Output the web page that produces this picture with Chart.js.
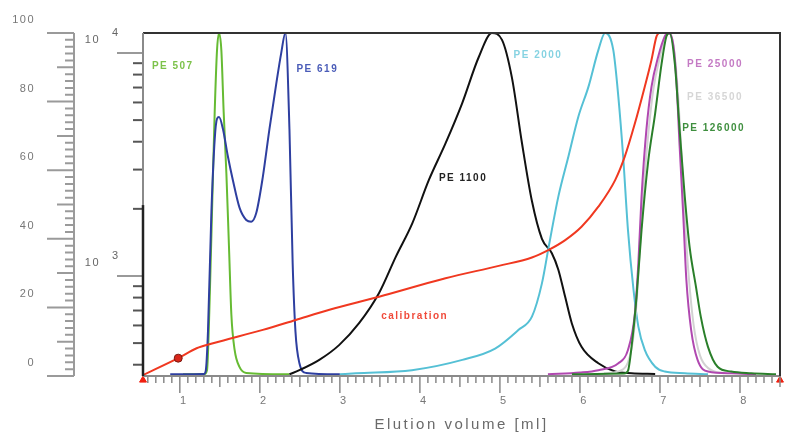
<!DOCTYPE html>
<html>
<head>
<meta charset="utf-8">
<script src="https://cdn.jsdelivr.net/npm/chart.js@4/dist/chart.umd.min.js"></script>
<style>
  html, body { margin: 0; padding: 0; background: #fff; }
  #gpc { display: block; }
</style>
</head>
<body>
<canvas id="gpc" width="785" height="437"></canvas>
<script>
// ------------------------------------------------------------
// GPC ELUTION CURVES (PE standards) + calibration curve
// ------------------------------------------------------------

// axis tick labels
const xTickVals = [1, 2, 3, 4, 5, 6, 7, 8];
const linTickVals = [0, 20, 40, 60, 80, 100];
const logTickVals = [1000, 10000];

// elution volume [ml] / normalized signal for each standard
const pe507Vol = [1.04, 1.30, 1.34, 1.374, 1.407, 1.436, 1.465, 1.49, 1.519, 1.548, 1.582, 1.614, 1.644, 1.685, 1.747, 1.83, 2.37];
const pe507Sig = [0.5, 0.5, 1.7, 23, 52, 77, 95, 100, 95, 77, 59, 38, 18, 7.6, 2.6, 0.9, 0.5];

const pe619Vol = [0.88, 1.30, 1.324, 1.352, 1.395, 1.436, 1.465, 1.49, 1.539, 1.601, 1.664, 1.747, 1.83, 1.893, 1.955, 2.037, 2.12, 2.204, 2.266, 2.32, 2.37, 2.41, 2.445, 2.494, 2.578, 3.0];
const pe619Sig = [0.5, 0.6, 1.5, 13, 48, 69, 75, 75.5, 72, 64, 57, 49, 45.5, 45, 47.5, 58, 72, 85, 94, 100, 72, 33, 13, 3.8, 0.9, 0.5];

const pe1100Vol = [2.37, 2.494, 2.743, 2.99, 3.24, 3.49, 3.70, 3.905, 4.11, 4.32, 4.528, 4.736, 4.90, 5.026, 5.15, 5.275, 5.40, 5.525, 5.649, 5.73, 5.816, 5.898, 6.02, 6.23, 6.44, 6.645, 6.94];
const pe1100Sig = [0.5, 1.7, 4.7, 9, 15.4, 24.2, 34.8, 44.5, 57, 67.8, 79.5, 93, 100, 98, 87, 68, 51, 40, 35.8, 31, 23, 15.4, 8.5, 3.7, 1.3, 0.8, 0.6];

const pe2000Vol = [3.0, 3.2, 3.9, 4.53, 4.94, 5.23, 5.40, 5.525, 5.61, 5.73, 5.856, 5.98, 6.106, 6.23, 6.314, 6.417, 6.48, 6.54, 6.60, 6.67, 6.73, 6.81, 6.94, 7.06, 7.31, 7.6];
const pe2000Sig = [0.5, 0.8, 1.7, 4.7, 8, 13.4, 17.3, 27, 37.7, 52.3, 64, 75.6, 84.3, 95, 100, 95, 81.4, 64, 42.6, 25, 14.4, 7.6, 2.7, 1.3, 0.8, 0.5];

const pe25000Vol = [5.6, 6.0, 6.23, 6.48, 6.60, 6.687, 6.73, 6.77, 6.83, 6.894, 6.977, 7.06, 7.10, 7.164, 7.205, 7.246, 7.29, 7.33, 7.39, 7.47, 7.6, 7.89, 8.2];
const pe25000Sig = [0.5, 1, 1.7, 3.7, 7.6, 18.3, 32.9, 52.3, 71.7, 84.3, 93, 99, 100, 97, 86.3, 66.9, 47.4, 28, 13.4, 4.7, 1.3, 0.8, 0.5];

const pe36500Vol = [6.30, 6.50, 6.60, 6.66, 6.71, 6.75, 6.80, 6.86, 6.92, 7.00, 7.07, 7.11, 7.17, 7.22, 7.27, 7.31, 7.36, 7.42, 7.50, 7.62, 7.80];
const pe36500Sig = [0.8, 1.5, 4, 10, 22, 38, 56, 72, 84, 93, 99, 100, 96, 84, 64, 46, 29, 15, 6, 2, 0.8];

const pe126000Vol = [5.9, 6.55, 6.60, 6.645, 6.707, 6.77, 6.85, 6.94, 7.02, 7.08, 7.12, 7.186, 7.246, 7.31, 7.37, 7.45, 7.51, 7.6, 7.72, 7.89, 8.14, 8.45];
const pe126000Sig = [0.5, 0.7, 1.5, 8.5, 23, 42.6, 62, 76.6, 91, 99, 100, 91, 71.7, 52.3, 37.7, 26, 17.3, 8.5, 2.7, 1.3, 0.8, 0.5];

// calibration: elution volume -> molar mass (log axis)
const calVol = [0.543, 0.98, 1.21, 1.415, 2.037, 2.45, 2.87, 3.49, 4.32, 4.985, 5.40, 5.61, 5.816, 6.02, 6.23, 6.44, 6.56, 6.687, 6.81, 6.894, 6.956, 6.985];
const calMw = [360, 428, 474, 499, 573, 635, 705, 807, 977, 1110, 1210, 1310, 1449, 1663, 2045, 2692, 3428, 4838, 7063, 9310, 11840, 12300];

// label texts and where they sit (in data units)
const seriesLabels = [
    { text: "PE 507", color: "#7cc24a", x: 0.651, y: 90.4 },
    { text: "PE 619", color: "#4a5cb8", x: 2.457, y: 89.5 },
    { text: "PE 1100", color: "#222222", x: 4.238, y: 57.7 },
    { text: "PE 2000", color: "#86d3e2", x: 5.17, y: 93.6 },
    { text: "PE 25000", color: "#c47ac4", x: 7.339, y: 91 },
    { text: "PE 36500", color: "#d6d6d6", x: 7.339, y: 81.3 },
    { text: "PE 126000", color: "#3f8f3f", x: 7.277, y: 72.3 },
    { text: "calibration", color: "#f04a3a", x: 3.516, y: 17.5 }
];

const X_MIN = 0.54, X_MAX = 8.5;
const LOG_MIN = 356, LOG_MAX = 12292;

function toPoints(xs, ys) {
    return xs.map((x, i) => ({ x: x, y: ys[i] }));
}

function curve(label, xs, ys, color, axis) {
    return {
        label: label,
        data: toPoints(xs, ys),
        borderColor: color,
        backgroundColor: color,
        borderWidth: 2,
        pointRadius: 0,
        cubicInterpolationMode: "monotone",
        yAxisID: axis || "yLin"
    };
}

// ruler style tick marks, text labels, frame
const drawExtras = {
    id: "drawExtras",
    beforeDraw(chart) {
        chart.ctx.letterSpacing = "1.5px";
    },
    afterDraw(chart) {
        const { ctx, chartArea: a, scales } = chart;
        const xs = scales.x, yl = scales.yLin, yg = scales.yLog;
        ctx.save();
        ctx.lineCap = "butt";

        // outer linear ruler
        ctx.strokeStyle = "#9a9a9a";
        ctx.lineWidth = 2;
        const rx = yl.right - 1;
        ctx.beginPath();
        ctx.moveTo(rx, a.top);
        ctx.lineTo(rx, a.bottom);
        for (let v = 0; v <= 100; v += 2) {
            const len = v % 20 === 0 ? 27 : (v % 10 === 0 ? 17 : 9);
            const py = yl.getPixelForValue(v);
            ctx.moveTo(rx, py);
            ctx.lineTo(rx - len, py);
        }
        ctx.stroke();

        // log axis ruler
        for (let dec = 100; dec <= 10000; dec *= 10) {
            for (let m = 1; m <= 9; m++) {
                const v = m * dec;
                if (v < LOG_MIN || v > LOG_MAX) continue;
                const len = m === 1 ? 26 : 10;
                const py = yg.getPixelForValue(v);
                ctx.strokeStyle = m === 1 ? "#999" : "#555";
                ctx.beginPath();
                ctx.moveTo(a.left, py);
                ctx.lineTo(a.left - len, py);
                ctx.stroke();
            }
        }

        // exponents of the log labels
        ctx.fillStyle = "#666";
        ctx.font = "11px 'Liberation Sans', Arial, sans-serif";
        ctx.textAlign = "left";
        ctx.textBaseline = "middle";
        logTickVals.forEach(v => {
            const py = yg.getPixelForValue(v);
            ctx.fillText(String(Math.round(Math.log10(v))), a.left - 31, py - 20);
        });

        // x axis ruler
        ctx.strokeStyle = "#8a8a8a";
        ctx.lineWidth = 1.5;
        ctx.beginPath();
        for (let i = Math.ceil(X_MIN * 10); i <= Math.floor(X_MAX * 10); i++) {
            const len = i % 10 === 0 ? 17 : (i % 5 === 0 ? 11 : 7);
            const px = xs.getPixelForValue(i / 10);
            ctx.moveTo(px, a.bottom);
            ctx.lineTo(px, a.bottom + len);
        }
        ctx.stroke();

        // frame
        ctx.lineWidth = 2;
        ctx.strokeStyle = "#8a8a8a";
        ctx.beginPath();
        ctx.moveTo(a.left, a.bottom);
        ctx.lineTo(a.right, a.bottom);
        ctx.stroke();
        ctx.strokeStyle = "#333";
        ctx.beginPath();
        ctx.moveTo(a.left, a.top);
        ctx.lineTo(a.right, a.top);
        ctx.lineTo(a.right, a.bottom);
        ctx.stroke();
        // left axis: grey upper part, black lower part
        const split = yg.getPixelForValue(2080);
        ctx.strokeStyle = "#8a8a8a";
        ctx.beginPath();
        ctx.moveTo(a.left, a.top);
        ctx.lineTo(a.left, split);
        ctx.stroke();
        ctx.strokeStyle = "#222";
        ctx.lineWidth = 2.5;
        ctx.beginPath();
        ctx.moveTo(a.left, split);
        ctx.lineTo(a.left, a.bottom);
        ctx.stroke();

        // series labels
        ctx.font = "bold 10px 'Liberation Sans', Arial, sans-serif";
        ctx.textAlign = "left";
        ctx.textBaseline = "middle";
        seriesLabels.forEach(l => {
            ctx.fillStyle = l.color;
            ctx.fillText(l.text, xs.getPixelForValue(l.x), yl.getPixelForValue(l.y));
        });

        // axis title
        ctx.letterSpacing = "2.5px";
        ctx.fillStyle = "#6a6a6a";
        ctx.font = "15px 'Liberation Sans', Arial, sans-serif";
        ctx.textAlign = "center";
        ctx.fillText("Elution volume [ml]", (a.left + a.right) / 2, a.bottom + 49);
        ctx.restore();
    }
};

function initChart() {
    const ctx = document.getElementById("gpc").getContext("2d");

    const calib = curve("calibration", calVol, calMw, "#f03820", "yLog");
    calib.pointRadius = calVol.map((v, i) => (i === 1 ? 4 : 0));
    calib.pointBackgroundColor = "#d9261a";
    calib.pointBorderColor = "#7a1a10";
    calib.pointBorderWidth = 1;

    const tickFont = { family: "'Liberation Sans', Arial, sans-serif", size: 11 };

    new Chart(ctx, {
        type: "line",
        data: {
            datasets: [
                calib,
                {
                    label: "ends",
                    data: [{ x: X_MIN, y: -1.2 }, { x: X_MAX, y: -1.2 }],
                    showLine: false,
                    pointStyle: "triangle",
                    pointRadius: 4,
                    pointBackgroundColor: "#f02010",
                    pointBorderColor: "#f02010",
                    clip: false,
                    yAxisID: "yLin"
                },
                curve("PE 126000", pe126000Vol, pe126000Sig, "#2a7f2a"),
                curve("PE 25000", pe25000Vol, pe25000Sig, "#b048b0"),
                curve("PE 36500", pe36500Vol, pe36500Sig, "#d2d2d2"),
                curve("PE 2000", pe2000Vol, pe2000Sig, "#55c0d5"),
                curve("PE 1100", pe1100Vol, pe1100Sig, "#111111"),
                curve("PE 619", pe619Vol, pe619Sig, "#2e3fa0"),
                curve("PE 507", pe507Vol, pe507Sig, "#66bb33")
            ]
        },
        options: {
            responsive: false,
            animation: false,
            layout: { padding: { top: 33, right: 3, left: 0, bottom: 0 } },
            plugins: {
                legend: { display: false },
                tooltip: { enabled: false }
            },
            scales: {
                x: {
                    type: "linear",
                    position: "bottom",
                    min: X_MIN,
                    max: X_MAX,
                    afterFit: s => { s.height = 61; },
                    afterBuildTicks: s => { s.ticks = xTickVals.map(v => ({ value: v })); },
                    grid: { display: false, drawTicks: true, tickLength: 14 },
                    border: { display: false },
                    ticks: { color: "#777", font: tickFont, padding: 4, labelOffset: 4, autoSkip: false, maxRotation: 0 }
                },
                yLin: {
                    type: "linear",
                    position: "left",
                    weight: 2,
                    min: 0,
                    max: 100,
                    afterFit: s => { s.width = 75; },
                    afterBuildTicks: s => { s.ticks = linTickVals.map(v => ({ value: v })); },
                    grid: { display: false, drawTicks: true, tickLength: 30 },
                    border: { display: false },
                    ticks: { color: "#777", font: tickFont, padding: 10, labelOffset: -13, autoSkip: false }
                },
                yLog: {
                    type: "logarithmic",
                    position: "left",
                    weight: 1,
                    min: LOG_MIN,
                    max: LOG_MAX,
                    afterFit: s => { s.width = 68; },
                    afterBuildTicks: s => { s.ticks = logTickVals.map(v => ({ value: v })); },
                    grid: { display: false, drawTicks: true, tickLength: 33 },
                    border: { display: false },
                    ticks: { color: "#666", font: tickFont, padding: 10, labelOffset: -13, autoSkip: false, callback: () => "10" }
                }
            }
        },
        plugins: [drawExtras]
    });
}

document.addEventListener("DOMContentLoaded", initChart);
</script>
</body>
</html>
